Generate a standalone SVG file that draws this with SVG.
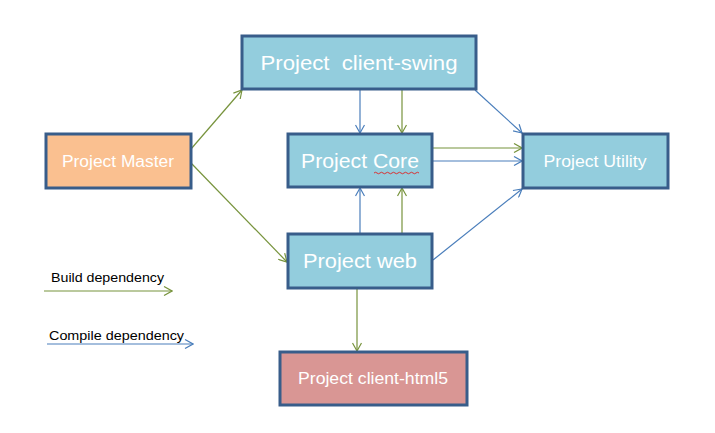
<svg xmlns="http://www.w3.org/2000/svg" width="715" height="433" viewBox="0 0 715 433">
<style>
.box{stroke:#385D8A;stroke-width:3}
.blue{fill:#93CDDD}
.t{font-family:"Liberation Sans",Arial,sans-serif;fill:#fff;text-anchor:middle}
.g{stroke:#77933C;stroke-width:1.2;fill:none}
.b{stroke:#4A7EBB;stroke-width:1.2;fill:none}
.lg{font-family:"Liberation Sans",Arial,sans-serif;font-size:13px;fill:#000}
</style>
<defs>
<marker id="ag" markerWidth="10" markerHeight="10" refX="9" refY="5" orient="auto" markerUnits="userSpaceOnUse">
<path d="M1,0.5 L9,5 L1,9.5" fill="none" stroke="#77933C" stroke-width="1.2"/>
</marker>
<marker id="ab" markerWidth="10" markerHeight="10" refX="9" refY="5" orient="auto" markerUnits="userSpaceOnUse">
<path d="M1,0.5 L9,5 L1,9.5" fill="none" stroke="#4A7EBB" stroke-width="1.2"/>
</marker>
</defs>
<rect width="715" height="433" fill="#fff"/>
<g id="connectors">
<line class="g" x1="191" y1="149" x2="242" y2="90" marker-end="url(#ag)"/>
<line class="g" x1="191" y1="163" x2="287" y2="262" marker-end="url(#ag)"/>
<line class="b" x1="360" y1="90" x2="360" y2="133" marker-end="url(#ab)"/>
<line class="g" x1="402" y1="90" x2="402" y2="133" marker-end="url(#ag)"/>
<line class="g" x1="433" y1="148" x2="522" y2="148" marker-end="url(#ag)"/>
<line class="b" x1="433" y1="161" x2="522" y2="161" marker-end="url(#ab)"/>
<line class="b" x1="475" y1="90" x2="522" y2="133" marker-end="url(#ab)"/>
<line class="b" x1="433" y1="260" x2="522" y2="189" marker-end="url(#ab)"/>
<line class="b" x1="360" y1="234" x2="360" y2="188" marker-end="url(#ab)"/>
<line class="g" x1="402" y1="234" x2="402" y2="188" marker-end="url(#ag)"/>
<line class="g" x1="357" y1="289" x2="357" y2="351" marker-end="url(#ag)"/>
<line class="g" x1="44" y1="291" x2="172" y2="291" marker-end="url(#ag)"/>
<line class="b" x1="47" y1="344" x2="193" y2="344" marker-end="url(#ab)"/>
</g>
<g id="client-swing">
<rect class="box blue" x="242" y="36" width="234" height="53"/>
<text class="t" x="359" y="70" font-size="20" xml:space="preserve" style="white-space:pre" textLength="197" lengthAdjust="spacingAndGlyphs">Project  client-swing</text>
</g>
<g id="core">
<rect class="box blue" x="288" y="134" width="144" height="53"/>
<text class="t" x="360" y="168" font-size="20" textLength="118" lengthAdjust="spacingAndGlyphs">Project Core</text>
<path d="M374,173 q1.5,-1.5 3,0 t3,0 t3,0 t3,0 t3,0 t3,0 t3,0 t3,0 t3,0 t3,0 t3,0 t3,0 t3,0 t3,0 t3,0" fill="none" stroke="#E02020" stroke-width="0.9"/>
</g>
<g id="web">
<rect class="box blue" x="288" y="234" width="144" height="54"/>
<text class="t" x="360" y="268" font-size="20" textLength="114" lengthAdjust="spacingAndGlyphs">Project web</text>
</g>
<g id="master">
<rect class="box" fill="#FAC090" x="46" y="134" width="145" height="54"/>
<text class="t" x="118" y="167" font-size="16" textLength="112" lengthAdjust="spacingAndGlyphs">Project Master</text>
</g>
<g id="utility">
<rect class="box blue" x="523" y="134" width="145" height="54"/>
<text class="t" x="595" y="167" font-size="16" textLength="103" lengthAdjust="spacingAndGlyphs">Project Utility</text>
</g>
<g id="client-html5">
<rect class="box" fill="#D99694" x="280" y="352" width="187" height="53"/>
<text class="t" x="373" y="384" font-size="16" textLength="150" lengthAdjust="spacingAndGlyphs">Project client-html5</text>
</g>
<g id="legend">
<text class="lg" x="51" y="282" textLength="113" lengthAdjust="spacingAndGlyphs">Build dependency</text>
<text class="lg" x="49" y="340" textLength="135" lengthAdjust="spacingAndGlyphs">Compile dependency</text>
</g>
</svg>
